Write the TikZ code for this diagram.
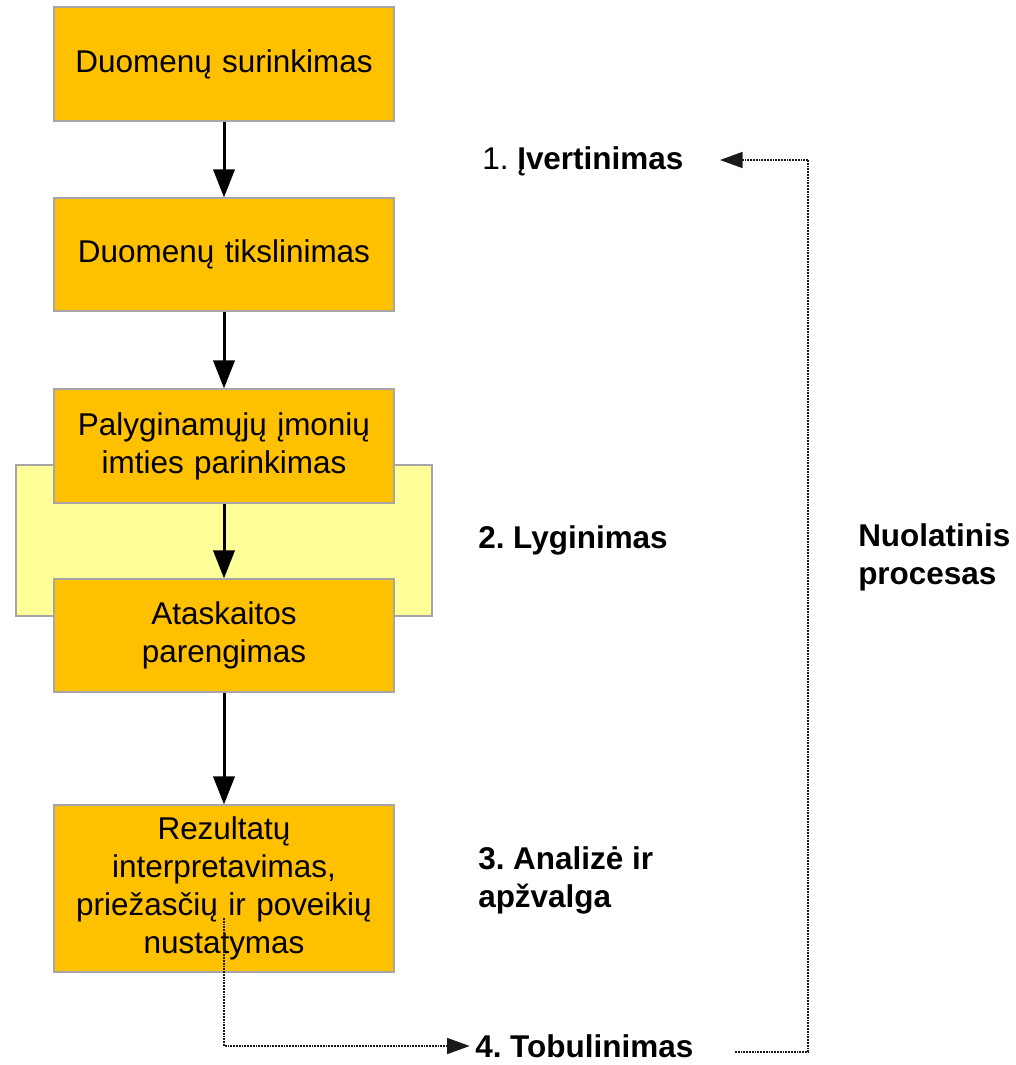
\documentclass[tikz,border=0pt]{standalone}
\usepackage{fontspec}
\setmainfont{Liberation Sans}
\usetikzlibrary{arrows.meta}
\definecolor{boxorange}{HTML}{FFC000}
\definecolor{boxyellow}{HTML}{FFFF99}
\definecolor{boxedge}{HTML}{A6A6A6}
\definecolor{dotgray}{HTML}{1A1A1A}
\frenchspacing
\begin{document}
\begin{tikzpicture}[x=0.75pt,y=-0.75pt,
  stepbox/.style={draw=boxedge,line width=1pt,fill=boxorange,minimum width=255pt,
    inner sep=2pt,align=center,text width=245pt,
    font=\fontsize{23.6}{28.5}\selectfont},
  phase/.style={anchor=west,inner sep=0pt,align=left,font=\fontsize{23.6}{28.5}\selectfont},
  mainarrow/.style={line width=2.25pt,-{Triangle[length=21pt,width=16pt]}},
  dotline/.style={dotgray,line width=1.3pt,dash pattern=on 1.3pt off 0.8pt},
  dotarrow/.style={dotline,-{Triangle[length=17pt,width=12pt]}}]
\useasboundingbox (0,0) rectangle (1016,1065);
% yellow background band
\node[draw=boxedge,line width=1pt,fill=boxyellow,minimum width=312pt,minimum height=113.25pt,inner sep=0pt] (band) at (224,540.5) {};
% process boxes
\node[stepbox,minimum height=85.5pt] (b1) at (224,64) {Duomenų surinkimas};
\node[stepbox,minimum height=84.75pt] (b2) at (224,254.5) {Duomenų tikslinimas};
\node[stepbox,minimum height=85.5pt] (b3) at (224,446) {Palyginamųjų įmonių\\imties parinkimas};
\node[stepbox,minimum height=84.75pt] (b4) at (224,635.5) {Ataskaitos\\parengimas};
\node[stepbox,minimum height=125.25pt] (b5) at (224,888.5) {Rezultatų\\interpretavimas,\\priežasčių ir poveikių\\nustatymas};
\draw[mainarrow] (b1) -- (b2);
\draw[mainarrow] (b2) -- (b3);
\draw[mainarrow] (b3) -- (b4);
\draw[mainarrow] (b4) -- (b5);
% phase labels
\node[phase] (iv) at (482,161) {1. \textbf{Įvertinimas}};
\node[phase] (lyg) at (478,540) {\textbf{2. Lyginimas}};
\node[phase] (anal) at (478,880) {\textbf{3. Analizė ir}\\\textbf{apžvalga}};
\node[phase] (tob) at (475,1046) {\textbf{4. Tobulinimas}};
\node[phase] (nuol) at (858,557) {\textbf{Nuolatinis}\\\textbf{procesas}};
% dotted feedback connectors
\coordinate (b5start) at (224,918);
\coordinate (tobout) at (735,1052);
\coordinate (corner) at (808,160);
\coordinate (ivin) at (720,160);
\draw[dotarrow] (b5start) |- ([xshift=-4pt]tob.west);
\draw[dotline] (tobout) -| (corner);
\draw[dotarrow] (corner) -- (ivin);
\end{tikzpicture}
\end{document}
